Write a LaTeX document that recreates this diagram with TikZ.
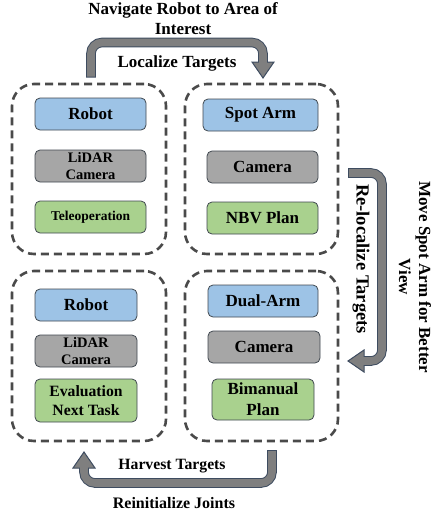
\documentclass[tikz,border=0pt]{standalone}
\usepackage{fontspec}
\setmainfont{Liberation Serif}
\usetikzlibrary{calc}
\definecolor{cblue}{HTML}{9DC3E6}
\definecolor{cgrey}{HTML}{A6A6A6}
\definecolor{cgreen}{HTML}{A9D18E}
\definecolor{cborder}{HTML}{404850}
\definecolor{cdash}{HTML}{4A4A4A}
\definecolor{afill}{HTML}{7F7F7F}
\definecolor{aline}{HTML}{3E4C60}
\tikzset{
  group/.style={draw=cdash, line width=2.6pt, dash pattern=on 8pt off 5pt, rounded corners=22pt, minimum width=#1, minimum height=170pt, inner sep=0pt},
  comp/.style={draw=cborder, line width=0.8pt, rounded corners=5pt, inner sep=0pt, align=center, font=\bfseries\fontsize{17}{20}\selectfont},
  bluebox/.style={comp, fill=cblue},
  greybox/.style={comp, fill=cgrey},
  greenbox/.style={comp, fill=cgreen},
  lbl/.style={font=\bfseries\fontsize{17}{20}\selectfont, align=center, inner sep=0pt},
  aout/.style={draw=aline, line width=9.6pt, rounded corners=11pt},
  ain/.style={draw=afill, line width=7.6pt, rounded corners=11pt, shorten <=1pt},
  ahead/.style={fill=afill, draw=aline, line width=1pt, line join=miter}
}
\begin{document}
\begin{tikzpicture}[x=1pt,y=-1pt]
\useasboundingbox (0,0) rectangle (438,514);
% groups
\node[group=154pt] (g1) at (89,169) {};
\node[group=153pt] (g2) at (261.5,169) {};
\node[group=154pt] (g3) at (89,356) {};
\node[group=153pt] (g4) at (261.5,356) {};
% components
\node[bluebox, minimum width=111pt, minimum height=32pt] (r1) at (90.5,114) {Robot};
\node[greybox, minimum width=111pt, minimum height=32pt, font=\bfseries\fontsize{14.5}{17}\selectfont] (l1) at (90.5,166) {LiDAR\\Camera};
\node[greenbox, minimum width=111pt, minimum height=32pt, font=\bfseries\fontsize{13.5}{16}\selectfont] (t1) at (90.5,217) {Teleoperation};
\node[bluebox, minimum width=115pt, minimum height=32pt] (s2) at (260.5,115) {Spot Arm};
\node[greybox, minimum width=111pt, minimum height=32pt] (c2) at (262.5,167) {Camera};
\node[greenbox, minimum width=111pt, minimum height=32pt] (n2) at (262.5,218) {NBV Plan};
\node[bluebox, minimum width=102pt, minimum height=32pt] (r3) at (86,305) {Robot};
\node[greybox, minimum width=102pt, minimum height=32pt, font=\bfseries\fontsize{14.5}{17}\selectfont] (l3) at (86,351) {LiDAR\\Camera};
\node[greenbox, minimum width=102pt, minimum height=43pt, font=\bfseries\fontsize{15.7}{19}\selectfont] (e3) at (86,400.5) {Evaluation\\Next Task};
\node[bluebox, minimum width=110pt, minimum height=32pt] (d4) at (263,301) {Dual-Arm};
\node[greybox, minimum width=112pt, minimum height=32pt] (c4) at (264,347) {Camera};
\node[greenbox, minimum width=102pt, minimum height=41pt, font=\bfseries\fontsize{17}{21}\selectfont] (b4) at (263,399.5) {Bimanual\\Plan};
% arrow coordinates
\coordinate (a1s) at (91,77.5);
\coordinate (a1b) at (91,42.5);
\coordinate (a1c) at (263,42.5);
\coordinate (a1h) at (263,62);
\coordinate (a1t) at (263,78);
\coordinate (a2s) at (348,173);
\coordinate (a2b) at (382,173);
\coordinate (a2c) at (382,361);
\coordinate (a2h) at (364,361);
\coordinate (a2t) at (348,361);
\coordinate (a3s) at (272,450);
\coordinate (a3b) at (272,483);
\coordinate (a3c) at (84,483);
\coordinate (a3h) at (84,468);
\coordinate (a3t) at (84,452);
% arrow 1 (g1 -> g2)
\draw[aout] (a1s) -- (a1b) -- (a1c) -- (a1h);
\filldraw[ahead] ($(a1h)+(-11,0)$) -- ($(a1h)+(11,0)$) -- (a1t) -- cycle;
\draw[ain] (a1s) -- (a1b) -- (a1c) -- ($(a1h)+(0,1.5)$);
% arrow 2 (g2 -> g4)
\draw[aout] (a2s) -- (a2b) -- (a2c) -- (a2h);
\filldraw[ahead] ($(a2h)+(0,-11)$) -- ($(a2h)+(0,11)$) -- (a2t) -- cycle;
\draw[ain] (a2s) -- (a2b) -- (a2c) -- ($(a2h)+(-1.5,0)$);
% arrow 3 (g4 -> g3)
\draw[aout] (a3s) -- (a3b) -- (a3c) -- (a3h);
\filldraw[ahead] ($(a3h)+(-11,0)$) -- ($(a3h)+(11,0)$) -- (a3t) -- cycle;
\draw[ain] (a3s) -- (a3b) -- (a3c) -- ($(a3h)+(0,-1.5)$);
% labels
\node[lbl] (nav) at (183,19) {Navigate Robot to Area of\\Interest};
\node[lbl] (loc) at (177,63) {Localize Targets};
\node[lbl, rotate=-90, font=\bfseries\fontsize{18.5}{20}\selectfont] (reloc) at (361,259) {Re-localize Targets};
\node[lbl, rotate=-90] (move) at (415,277) {Move Spot Arm for Better\\View};
\node[lbl, font=\bfseries\fontsize{15.7}{19}\selectfont] (harv) at (172,466) {Harvest Targets};
\node[lbl, font=\bfseries\fontsize{16}{19}\selectfont] (reinit) at (174,503) {Reinitialize Joints};
\end{tikzpicture}
\end{document}
